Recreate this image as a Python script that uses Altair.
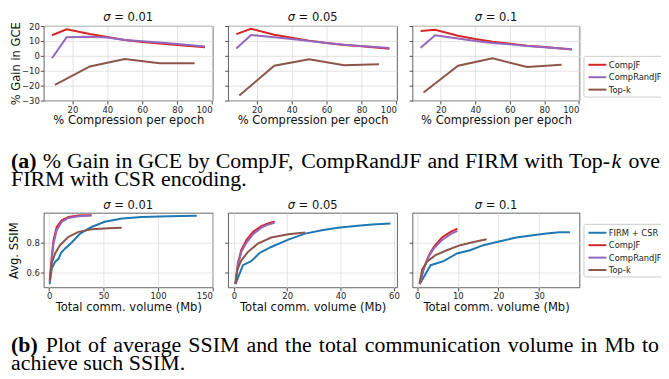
import altair as alt
import pandas as pd

# ---------------- data ----------------
SIGMAS = ["0.01", "0.05", "0.1"]
SERIES_TOP = ["CompJF", "CompRandJF", "Top-k"]
SERIES_BOT = ["FIRM + CSR", "CompJF", "CompRandJF", "Top-k"]
COLOR = {"FIRM + CSR": "#1f77b4", "CompJF": "#d62728",
         "CompRandJF": "#9467bd", "Top-k": "#8c564b"}

# (a) % gain in GCE vs % compression per epoch
comp_x = [8.3, 16.7, 30, 40, 50, 60, 70, 80, 96]
topk_x = [10, 30, 50, 70, 90]
gce_compjf = {
    "0.01": [13.8, 17.8, 14.7, 12.7, 10.7, 9.3, 8.2, 7.3, 5.8],
    "0.05": [14.6, 18.2, 14.2, 12.2, 10.2, 8.6, 7.3, 6.4, 4.8],
    "0.1": [16.7, 17.5, 13.5, 11.3, 9.5, 8.2, 6.8, 6.0, 4.2],
}
gce_comprand = {
    "0.01": [-1.6, 12.5, 12.8, 12.3, 10.7, 9.8, 9.0, 8.0, 6.3],
    "0.05": [5.0, 14.0, 12.5, 11.3, 10.0, 8.6, 7.5, 6.6, 5.3],
    "0.1": [5.5, 13.8, 11.7, 10.0, 8.6, 7.7, 6.6, 5.7, 4.4],
}
gce_topk = {
    "0.01": [-19.5, -7.1, -2.2, -4.9, -4.9],
    "0.05": [-26.6, -6.6, -2.3, -6.3, -5.7],
    "0.1": [-24.6, -6.6, -1.7, -7.5, -5.9],
}

# (b) avg SSIM vs total communication volume (Mb)
firm_x = {
    "0.01": [0.5, 2.4, 5.5, 8.6, 11, 14.7, 20.8, 28.5, 39, 51, 67, 85, 110, 135.6],
    "0.05": [0.6, 3.4, 6.5, 9.7, 14, 20.4, 26.7, 33, 39, 45.5, 51.8, 58.7],
    "0.1": [0.6, 3.3, 6.5, 9.8, 13, 16.3, 20.4, 24.4, 28.5, 31.8, 35, 37.6],
}
firm_y = {
    "0.01": [0.52, 0.625, 0.67, 0.69, 0.73, 0.76, 0.80, 0.86, 0.905, 0.94, 0.962, 0.973, 0.978, 0.98],
    "0.05": [0.519, 0.647, 0.674, 0.73, 0.77, 0.82, 0.86, 0.883, 0.90, 0.912, 0.921, 0.928],
    "0.1": [0.519, 0.647, 0.674, 0.726, 0.748, 0.782, 0.809, 0.834, 0.849, 0.861, 0.87, 0.87],
}
cjf_x = {
    "0.01": [0.6, 2.4, 4, 7, 11.6, 17.8, 27, 39],
    "0.05": [0.6, 1.5, 2.8, 4.7, 7.2, 10.3, 12.8, 15.3],
    "0.1": [0.6, 1.6, 2.9, 4.1, 6.1, 8.2, 9.9],
}
cjf_y = {
    "0.01": [0.535, 0.70, 0.815, 0.905, 0.95, 0.973, 0.982, 0.984],
    "0.05": [0.52, 0.66, 0.75, 0.816, 0.872, 0.91, 0.928, 0.942],
    "0.1": [0.52, 0.625, 0.715, 0.771, 0.834, 0.872, 0.894],
}
crjf_y = {
    "0.01": [0.535, 0.68, 0.793, 0.883, 0.94, 0.966, 0.978, 0.982],
    "0.05": [0.52, 0.65, 0.737, 0.798, 0.856, 0.90, 0.921, 0.933],
    "0.1": [0.52, 0.62, 0.708, 0.76, 0.816, 0.856, 0.879],
}
tk_x = {
    "0.01": [0.6, 2.4, 5.5, 10, 17.8, 27, 39, 54.5, 66.7],
    "0.05": [0.6, 1.3, 2.8, 5.3, 9, 14, 20.4, 26.7],
    "0.1": [0.6, 1.2, 2.4, 4.5, 7.3, 10.6, 13.9, 17.1],
}
tk_y = {
    "0.01": [0.546, 0.66, 0.726, 0.782, 0.838, 0.872, 0.89, 0.897, 0.899],
    "0.05": [0.524, 0.618, 0.68, 0.737, 0.793, 0.834, 0.856, 0.867],
    "0.1": [0.524, 0.618, 0.67, 0.715, 0.748, 0.782, 0.804, 0.822],
}

TOP_X_TICKS = [20, 40, 60, 80, 100]
TOP_Y_TICKS = [-30, -20, -10, 0, 10, 20]
BOT_Y_TICKS = [0.6, 0.8]
BOT_X_TICKS = {"0.01": [0, 50, 100, 150], "0.05": [0, 20, 40, 60], "0.1": [0, 10, 20, 30, 40]}
BOT_X_DOMAIN = {"0.01": [-4.9, 150.3], "0.05": [-2.15, 61.2], "0.1": [-1.15, 39.95]}

CAP_A1 = ["%", "Gain", "in", "GCE", "by", "CompJF,", "CompRandJF", "and", "FIRM", "with", "Top-k", "over"]
CAP_A2 = "FIRM with CSR encoding."
CAP_B1 = ["Plot", "of", "average", "SSIM", "and", "the", "total", "communication", "volume", "in", "Mb", "to"]
CAP_B2 = "achieve such SSIM."

WIDTHS = [170, 170, 168]
H = 75
SERIF = "Liberation Serif"
SANS = "DejaVu Sans"
FS = 22
TFS = 11.6

# Times advance widths (per 1000 em) used to justify caption words
_TW = dict(zip("ABCDEFGHIJKLMNOPQRSTUVWXYZ",
               [722, 667, 667, 722, 611, 556, 722, 722, 333, 389, 722, 611, 889, 722, 722, 556, 722, 667, 556, 611, 722, 722, 944, 722, 722, 611]))
_TW.update(zip("abcdefghijklmnopqrstuvwxyz",
               [444, 500, 444, 500, 444, 333, 500, 500, 278, 278, 500, 278, 778, 500, 500, 500, 500, 333, 389, 278, 500, 500, 722, 500, 500, 444]))
_TW.update({" ": 250, "%": 833, "(": 333, ")": 333, ",": 250, "-": 333, ".": 250})
# DejaVu Sans advance widths for the panel titles
_DW = {"σ": 630, " ": 318, "=": 838, "0": 636, "1": 636, "5": 636, ".": 318}


def tw(s):
    return sum(_TW.get(c, 500) for c in s) * FS / 1000.0


def dw(s):
    return sum(_DW.get(c, 600) for c in s) * TFS / 1000.0


def frame(xs, ys, name):
    return pd.DataFrame({"x": xs, "y": ys, "s": name})


one = pd.DataFrame({"v": [0]})


def text(t, x, y, weight="normal", style="normal"):
    return alt.Chart(one).mark_text(
        font=SERIF, fontSize=FS, align="left", baseline="alphabetic",
        fontWeight=weight, fontStyle=style, color="black",
    ).encode(x=alt.value(x), y=alt.value(y), text=alt.value(t))


def stext(t, x, y, style="normal"):
    return alt.Chart(one).mark_text(
        font=SANS, fontSize=TFS, align="left", baseline="alphabetic", color="#111", fontStyle=style,
    ).encode(x=alt.value(x), y=alt.value(y), text=alt.value(t))


def panel_title(sig, w, y):
    full = f"σ = {sig}"
    left = w / 2 - dw(full) / 2
    return [stext("σ", left, y, style="italic"),
            stext(f"= {sig}", left + dw("σ "), y)]


def justified(words, x0, x_last, y):
    """place words so the first starts at x0 and the last starts at x_last"""
    inner = sum(tw(w) for w in words[:-1])
    gap = (x_last - x0 - inner) / (len(words) - 1)
    out, x = [], x0
    for w in words:
        if w.endswith("-k"):
            out.append(text(w[:-1], x, y))
            out.append(text("k", x + tw(w[:-1]), y, style="italic"))
        else:
            out.append(text(w, x, y))
        x += tw(w) + gap
    return out


def legend(ly):
    return alt.Legend(
        title=None, orient="none", legendX=172, legendY=ly,
        symbolType="M-1.5,0H1.5", symbolSize=144, symbolStrokeWidth=2,
        symbolOffset=5, labelOffset=4.5, rowPadding=0.5, padding=2,
        labelFont=SANS, labelFontSize=8.4, labelColor="#222",
        strokeColor="#cccccc", fillColor="white", cornerRadius=2,
    )


def top_panel(i):
    sig = SIGMAS[i]
    df = pd.concat([
        frame(comp_x, gce_compjf[sig], "CompJF"),
        frame(comp_x, gce_comprand[sig], "CompRandJF"),
        frame(topk_x, gce_topk[sig], "Top-k"),
    ])
    if i == 0:
        yaxis = alt.Axis(values=TOP_Y_TICKS, grid=True, title="% Gain in GCE",
                         titleX=-27, titleY=H / 2, titleBaseline="middle", titleAlign="center")
    else:
        yaxis = alt.Axis(values=TOP_Y_TICKS, labels=False, grid=True, title=None)
    lines = alt.Chart(df).mark_line(strokeWidth=2).encode(
        x=alt.X("x:Q", scale=alt.Scale(domain=[3.6, 100.4], nice=False, zero=False),
                axis=alt.Axis(values=TOP_X_TICKS, title="% Compression per epoch",
                              titleX=WIDTHS[i] / 2, titleY=20, titleBaseline="middle")),
        y=alt.Y("y:Q", scale=alt.Scale(domain=[-30, 20], nice=False), axis=yaxis),
        color=alt.Color("s:N", scale=alt.Scale(domain=SERIES_TOP, range=[COLOR[s] for s in SERIES_TOP]),
                        legend=legend(30) if i == 2 else None),
    )
    layers = [lines, *panel_title(sig, WIDTHS[i], -5)]
    if i == 0:
        layers += [
            alt.Chart(one).mark_rule(opacity=0).encode(x=alt.value(-33), x2=alt.value(0), y=alt.value(-16)),
            text("(a)", -33, 142.7, weight="bold"),
            *justified(CAP_A1, -1, 661 - 41 - tw("ove"), 142.7),
            text(CAP_A2, -33, 161),
        ]
    return alt.layer(*layers).properties(width=WIDTHS[i], height=H)


def bot_panel(i):
    sig = SIGMAS[i]
    df = pd.concat([
        frame(firm_x[sig], firm_y[sig], "FIRM + CSR"),
        frame(cjf_x[sig], cjf_y[sig], "CompJF"),
        frame(cjf_x[sig], crjf_y[sig], "CompRandJF"),
        frame(tk_x[sig], tk_y[sig], "Top-k"),
    ])
    if i == 0:
        yaxis = alt.Axis(values=BOT_Y_TICKS, grid=True, title="Avg. SSIM", format=".1f",
                         titleX=-29, titleY=H / 2, titleBaseline="middle", titleAlign="center")
    else:
        yaxis = alt.Axis(values=BOT_Y_TICKS, labels=False, grid=True, title=None)
    lines = alt.Chart(df).mark_line(strokeWidth=2).encode(
        x=alt.X("x:Q", scale=alt.Scale(domain=BOT_X_DOMAIN[sig], nice=False, zero=False),
                axis=alt.Axis(values=BOT_X_TICKS[sig], title="Total comm. volume (Mb)",
                              titleX=WIDTHS[i] / 2, titleY=20, titleBaseline="middle")),
        y=alt.Y("y:Q", scale=alt.Scale(domain=[0.497, 1.0], nice=False, zero=False), axis=yaxis),
        color=alt.Color("s:N", scale=alt.Scale(domain=SERIES_BOT, range=[COLOR[s] for s in SERIES_BOT]),
                        legend=legend(11) if i == 2 else None),
    )
    layers = [lines, *panel_title(sig, WIDTHS[i], -4)]
    if i == 0:
        layers += [
            text("(b)", -33, 140, weight="bold"),
            *justified(CAP_B1, 2, 660 - 41 - tw("to"), 140),
            text(CAP_B2, -33, 158),
        ]
    if i == 2:
        layers += [alt.Chart(one).mark_rule(opacity=0).encode(x=alt.value(0), x2=alt.value(277), y=alt.value(178))]
    return alt.layer(*layers).properties(width=WIDTHS[i], height=H)


chart = alt.concat(
    *[top_panel(i) for i in range(3)], *[bot_panel(i) for i in range(3)],
    columns=3, spacing={"row": 113, "column": 15.5}, bounds="flush",
).resolve_scale(
    x="independent", y="independent", color="independent"
).resolve_legend(color="independent").properties(
    padding={"left": 0, "top": 0, "right": -28, "bottom": -11}
).configure_view(
    stroke="#3c3c3c", strokeWidth=0.8
).configure_axis(
    domain=False, labelFont=SANS, labelFontSize=8.5, labelColor="#262626",
    tickColor="#262626", tickSize=3.5, tickWidth=0.8, labelPadding=1,
    gridColor="#dcdcdc", gridWidth=0.8,
    titleFont=SANS, titleFontSize=11.6, titleFontWeight="normal", titleColor="#111",
)

chart.save("out.html", embed_options={"renderer": "svg", "actions": False})
